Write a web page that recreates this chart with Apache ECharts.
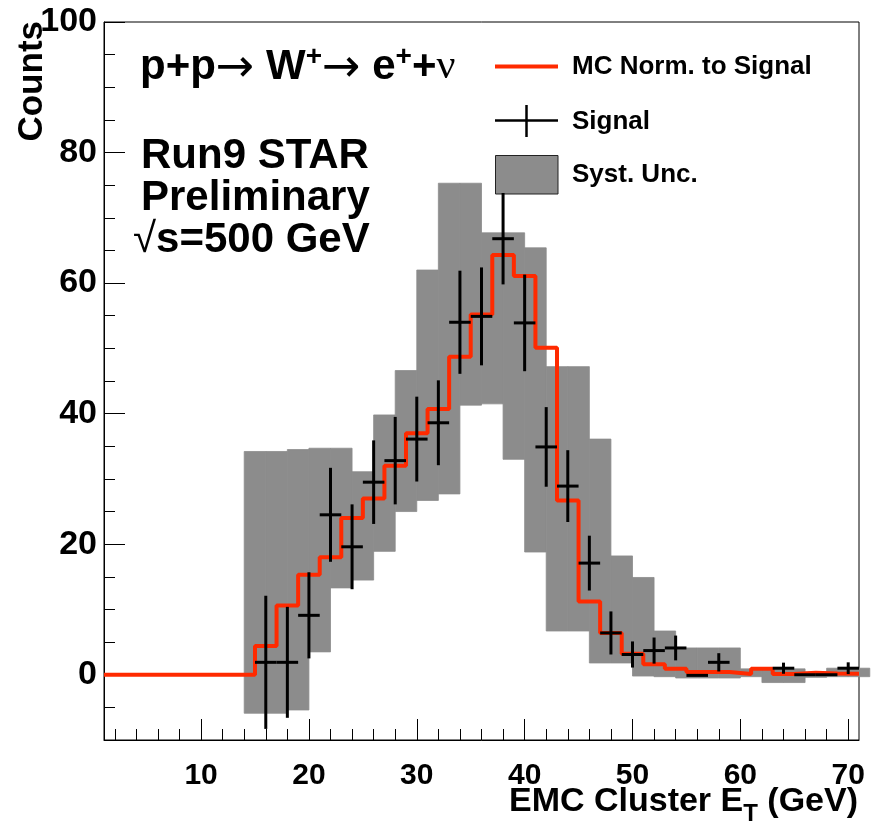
<!DOCTYPE html>
<html>
<head>
<meta charset="utf-8">
<script src="https://cdn.jsdelivr.net/npm/echarts@6/dist/echarts.min.js"></script>
<style>
html,body{margin:0;padding:0;background:#ffffff;}
#chart{width:879px;height:828px;}
</style>
</head>
<body>
<div id="chart"></div>
<script>
// ---------------- data ----------------
// MC histogram (red), 2 GeV bins starting at 1 GeV
const mcStart = 1;
const binWidth = 2;
const mcValues = [0,0,0,0,0,0,0,
  4.4,10.6,15.3,18.0,24.0,27.0,32.0,37.0,40.7,48.7,55.2,64.3,61.1,50.1,
  26.7,11.2,6.4,3.2,1.6,0.9,0.4,0.4,0.1,0.9,0.1,0.3,0.2,0.15];

// Signal points (black crosses)
const sigX   = [16,18,20,22,24,26,28,30,32,34,36,38,40,42,44,46,48,50,52,54,56,58,64,66,68,70];
const sigY   = [1.9,1.9,9.1,24.5,19.6,29.5,32.8,36.1,38.6,54.0,54.9,66.8,53.9,34.9,28.9,17.1,6.4,3.1,3.7,4.1,-0.1,1.9,1.0,0.0,0.0,1.0];
const sigErr = [10.2,8.5,6.6,7.2,6.5,6.4,6.7,6.5,6.5,7.9,7.5,7.0,7.4,6.1,5.5,4.2,3.3,2.0,2.0,1.9,0,1.4,0.85,0,0,0.9];

// Systematic uncertainty boxes (grey): left edge, low, high
const systX  = [14,16,18,20,22,24,26,28,30,32,34,36,38,40,42,44,46,48,50,52,54,56,58,60,62,64,66,68,70];
const systLo = [-5.9,-5.9,-5.4,3.5,13.3,14.5,18.9,25.0,26.7,27.7,41.3,41.5,33.0,18.8,6.7,6.7,1.8,1.8,-0.2,-0.3,-0.5,-0.5,-0.5,-0.3,-1.2,-1.2,-0.4,-0.3,-0.3];
const systHi = [34.2,34.2,34.5,34.7,34.7,31.1,39.8,46.6,62.0,75.3,75.3,67.7,67.7,65.4,47.2,47.2,36.1,18.2,14.9,6.7,4.1,4.1,4.1,0.9,0.9,0.9,0.4,1.0,1.0];

// Axis ticks
const xMajor = [10,20,30,40,50,60,70];
const xMinor = [2,4,6,8,12,14,16,18,22,24,26,28,32,34,36,38,42,44,46,48,52,54,56,58,62,64,66,68];
const yMajor = [0,20,40,60,80,100];
const yMinor = [-5,5,10,15,25,30,35,45,50,55,65,70,75,85,90,95];

// ---------------- styling ----------------
const FAM = "'Liberation Sans', Arial, Helvetica, sans-serif";
const ARROW_FAM = "'DejaVu Sans', sans-serif";
const RED = '#ff2a00';
const GREY = '#8c8c8c';

const mctx = document.createElement('canvas').getContext('2d');
function fontStr(s){ return (s.weight || 'bold') + ' ' + s.size + 'px ' + (s.family || FAM); }
function measure(s){ mctx.font = fontStr(s); return mctx.measureText(s.text).width; }
// place text segments on a baseline
function textLine(x0, baseline, segs, alignRight){
  const widths = segs.map(measure);
  const total = widths.reduce((a,b)=>a+b,0);
  let x = alignRight ? x0 - total : x0;
  return segs.map((s,i)=>{
    const el = {
      type:'text', x:x, y: baseline + (s.dy || 0) - 0.33 * s.size, silent:true,
      style:{text:s.text, font:fontStr(s), fill:'#000', textAlign:'left', textVerticalAlign:'middle', align:'left', verticalAlign:'middle'}
    };
    x += widths[i];
    return el;
  });
}

const mcData = mcValues.map((v,i)=>[mcStart + i*binWidth, v]);
mcData.push([mcStart + mcValues.length*binWidth, mcValues[mcValues.length-1]]);

const sigData = sigX.map((x,i)=>[x, sigY[i], sigErr[i]]);
const systData = systX.map((x,i)=>[x, systLo[i], systHi[i]]);

const graphics = [];
// Title
graphics.push(...textLine(140, 81, [
  {text:'p+p', size:42},
  {text:'\u2192', size:46, weight:'normal', family:ARROW_FAM, dy:3},
  {text:' W', size:42},
  {text:'+', size:28, dy:-14},
  {text:'\u2192', size:46, weight:'normal', family:ARROW_FAM, dy:3},
  {text:' e', size:42},
  {text:'+', size:28, dy:-14},
  {text:'+', size:42},
  {text:'\u03bd', size:42, weight:'normal', family:"'Liberation Serif', serif"}
]));
graphics.push(...textLine(141, 170, [{text:'Run9 STAR', size:42}]));
graphics.push(...textLine(141, 212, [{text:'Preliminary', size:42}]));
graphics.push(...textLine(133, 254, [
  {text:'\u221a', size:42, weight:'normal'},
  {text:'s=500 GeV', size:42}
]));
// X axis title
graphics.push(...textLine(858, 813, [
  {text:'EMC Cluster E', size:34},
  {text:'T', size:24, dy:9},
  {text:' (GeV)', size:34}
], true));
// Y axis title
graphics.push({
  type:'text', x:32, y:21, rotation:Math.PI/2, silent:true,
  style:{text:'Counts', font:'bold 35px ' + FAM, fill:'#000', textAlign:'right', textVerticalAlign:'middle', align:'right', verticalAlign:'middle'}
});
// Legend
graphics.push({type:'line', silent:true, shape:{x1:495,y1:66.5,x2:558,y2:66.5}, style:{stroke:RED, lineWidth:4}});
graphics.push(...textLine(572, 75, [{text:'MC Norm. to Signal', size:26}]));
graphics.push({type:'line', silent:true, shape:{x1:495,y1:120.5,x2:558,y2:120.5}, style:{stroke:'#000', lineWidth:2.5}});
graphics.push({type:'line', silent:true, shape:{x1:526.5,y1:105,x2:526.5,y2:137}, style:{stroke:'#000', lineWidth:2.5}});
graphics.push(...textLine(572, 130.5, [{text:'Signal', size:26}]));
graphics.push({type:'rect', silent:true, shape:{x:495.5,y:155.5,width:62.5,height:38.5}, style:{fill:GREY, stroke:'#222', lineWidth:1}});
graphics.push(...textLine(572, 183.5, [{text:'Syst. Unc.', size:26}]));

const xLabelStyle = {fontFamily:FAM, fontWeight:'bold', fontSize:30, color:'#000'};
const yLabelStyle = {fontFamily:FAM, fontWeight:'bold', fontSize:34, color:'#000'};

const option = {
  animation:false,
  backgroundColor:'#ffffff',
  grid:{left:104, right:20, top:22, bottom:88, show:true, borderColor:'#000', borderWidth:1, backgroundColor:'transparent'},
  xAxis:[
    {type:'value', min:1, max:71, position:'bottom',
      axisLine:{show:true, onZero:false, lineStyle:{color:'#000', width:1}},
      axisTick:{show:true, inside:true, length:21, customValues:xMajor, lineStyle:{color:'#000', width:1}},
      axisLabel:Object.assign({show:true, margin:21, customValues:xMajor}, xLabelStyle),
      splitLine:{show:false}},
    {type:'value', min:1, max:71, position:'bottom',
      axisLine:{show:false, onZero:false},
      axisTick:{show:true, inside:true, length:11, customValues:xMinor, lineStyle:{color:'#000', width:1}},
      axisLabel:{show:false},
      splitLine:{show:false}}
  ],
  yAxis:[
    {type:'value', min:-10, max:100, position:'left',
      axisLine:{show:true, onZero:false, lineStyle:{color:'#000', width:1}},
      axisTick:{show:true, inside:true, length:21, customValues:yMajor, lineStyle:{color:'#000', width:1}},
      axisLabel:Object.assign({show:true, margin:7, customValues:yMajor}, yLabelStyle),
      splitLine:{show:false}},
    {type:'value', min:-10, max:100, position:'left',
      axisLine:{show:false, onZero:false},
      axisTick:{show:true, inside:true, length:11, customValues:yMinor, lineStyle:{color:'#000', width:1}},
      axisLabel:{show:false},
      splitLine:{show:false}}
  ],
  graphic:{elements:graphics},
  series:[
    {
      name:'Syst. Unc.', type:'custom', xAxisIndex:0, yAxisIndex:0, clip:false, z:2,
      data:systData,
      encode:{x:0, y:[1,2]},
      renderItem:function(params, api){
        const x0 = api.value(0), lo = api.value(1), hi = api.value(2);
        const p1 = api.coord([x0, hi]);
        const p2 = api.coord([x0 + binWidth, lo]);
        return {type:'rect', shape:{x:p1[0], y:p1[1], width:p2[0]-p1[0], height:p2[1]-p1[1]},
          style:{fill:GREY, stroke:GREY, lineWidth:0.8}};
      }
    },
    {
      name:'MC Norm. to Signal', type:'line', xAxisIndex:0, yAxisIndex:0, step:'end', z:3,
      data:mcData, symbol:'none', showSymbol:false,
      lineStyle:{color:RED, width:4}
    },
    {
      name:'Signal', type:'custom', xAxisIndex:0, yAxisIndex:0, clip:false, z:4,
      data:sigData,
      encode:{x:0, y:1},
      renderItem:function(params, api){
        const x = api.value(0), y = api.value(1), e = api.value(2);
        const l = api.coord([x - binWidth/2, y]);
        const r = api.coord([x + binWidth/2, y]);
        const t = api.coord([x, y + e]);
        const b = api.coord([x, y - e]);
        const st = {stroke:'#000', lineWidth:3};
        return {type:'group', children:[
          {type:'line', shape:{x1:l[0], y1:l[1], x2:r[0], y2:r[1]}, style:st},
          {type:'line', shape:{x1:t[0], y1:t[1], x2:b[0], y2:b[1]}, style:st}
        ]};
      }
    }
  ]
};

const chart = echarts.init(document.getElementById('chart'), null, {renderer:'canvas'});
chart.setOption(option);
</script>
</body>
</html>
